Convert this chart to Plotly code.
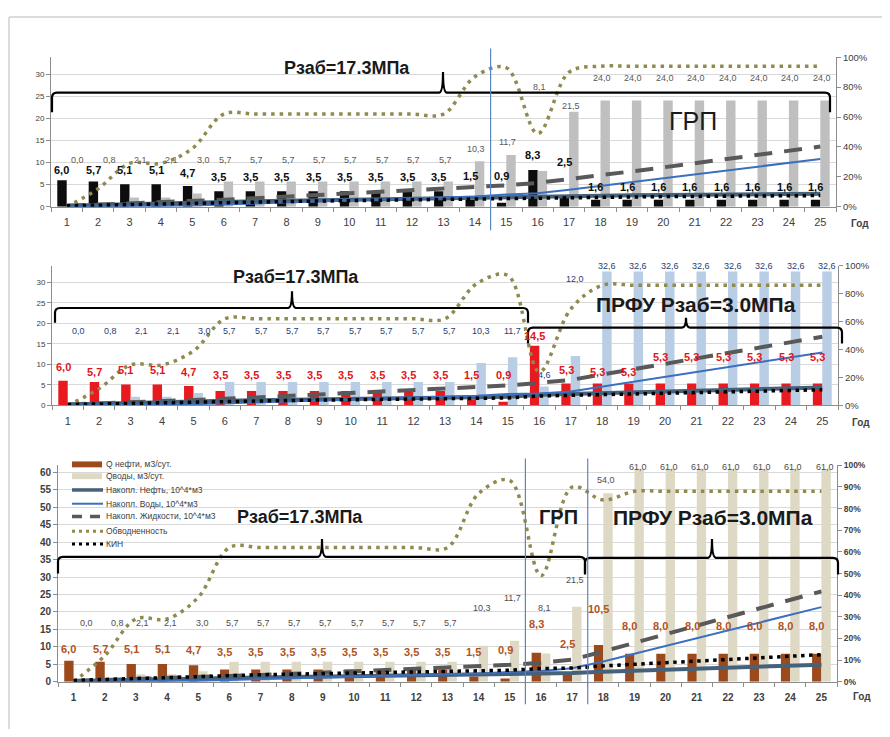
import plotly.graph_objects as go

# ---------------- data ----------------
years = list(range(1, 26))
year_labels = [str(y) for y in years]

# Panel 1: ГРП
p1_oil = [6.0, 5.7, 5.1, 5.1, 4.7, 3.5, 3.5, 3.5, 3.5, 3.5, 3.5, 3.5, 3.5, 1.5, 0.9,
          8.3, 2.5, 1.6, 1.6, 1.6, 1.6, 1.6, 1.6, 1.6, 1.6]
p1_water = [0.0, 0.8, 2.1, 2.1, 3.0, 5.7, 5.7, 5.7, 5.7, 5.7, 5.7, 5.7, 5.7, 10.3, 11.7,
            8.1, 21.5, 24.0, 24.0, 24.0, 24.0, 24.0, 24.0, 24.0, 24.0]
p1_cum_oil = [0.22, 0.43, 0.62, 0.80, 0.97, 1.10, 1.23, 1.36, 1.48, 1.61, 1.74, 1.87, 2.00, 2.05, 2.08,
              2.38, 2.47, 2.53, 2.59, 2.65, 2.70, 2.76, 2.82, 2.88, 2.94]
p1_cum_water = [0.0, 0.03, 0.10, 0.18, 0.29, 0.50, 0.71, 0.92, 1.12, 1.33, 1.54, 1.75, 1.95, 2.33, 2.75,
                3.05, 3.83, 4.70, 5.58, 6.46, 7.33, 8.21, 9.08, 9.96, 10.8]
p1_cum_liq = [0.22, 0.46, 0.72, 0.98, 1.26, 1.60, 1.93, 2.27, 2.60, 2.94, 3.27, 3.61, 3.95, 4.38, 4.84,
              5.4, 6.2, 7.1, 8.0, 8.9, 9.8, 10.8, 11.7, 12.6, 13.6]
p1_watercut = [0, 12, 29, 29, 39, 62, 62, 62, 62, 62, 62, 62, 62, 87, 93,
               49, 90, 94, 94, 94, 94, 94, 94, 94, 94]
p1_kin = [0.6, 1.1, 1.6, 2.1, 2.5, 2.8, 3.2, 3.5, 3.8, 4.1, 4.5, 4.8, 5.1, 5.3, 5.3,
          6.1, 6.3, 6.5, 6.6, 6.8, 6.9, 7.1, 7.2, 7.4, 7.5]

# Panel 2: ПРФУ
p2_oil = [6.0, 5.7, 5.1, 5.1, 4.7, 3.5, 3.5, 3.5, 3.5, 3.5, 3.5, 3.5, 3.5, 1.5, 0.9,
          14.5, 5.3, 5.3, 5.3, 5.3, 5.3, 5.3, 5.3, 5.3, 5.3]
p2_water = [0.0, 0.8, 2.1, 2.1, 3.0, 5.7, 5.7, 5.7, 5.7, 5.7, 5.7, 5.7, 5.7, 10.3, 11.7,
            4.6, 12.0, 32.6, 32.6, 32.6, 32.6, 32.6, 32.6, 32.6, 32.6]
p2_cum_oil = [0.22, 0.43, 0.62, 0.80, 0.97, 1.10, 1.23, 1.36, 1.48, 1.61, 1.74, 1.87, 2.00, 2.05, 2.08,
              2.61, 2.80, 3.00, 3.19, 3.38, 3.58, 3.77, 3.97, 4.16, 4.35]
p2_cum_water = [0.0, 0.03, 0.10, 0.18, 0.29, 0.50, 0.71, 0.92, 1.12, 1.33, 1.54, 1.75, 1.95, 2.33, 2.75,
                2.92, 3.36, 4.55, 5.74, 6.93, 8.12, 9.31, 10.5, 11.69, 12.88]
p2_cum_liq = [0.22, 0.46, 0.72, 0.98, 1.26, 1.60, 1.93, 2.27, 2.60, 2.94, 3.27, 3.61, 3.95, 4.38, 4.84,
              5.5, 6.2, 7.5, 8.8, 10.1, 11.4, 12.7, 14.0, 15.3, 16.7]
p2_watercut = [0, 12, 29, 29, 39, 62, 62, 62, 62, 62, 62, 62, 62, 87, 93,
               24, 69, 86, 86, 86, 86, 86, 86, 86, 86]
p2_kin = [0.6, 1.1, 1.6, 2.1, 2.5, 2.8, 3.2, 3.5, 3.8, 4.1, 4.5, 4.8, 5.1, 5.3, 5.3,
          6.7, 7.2, 7.7, 8.2, 8.7, 9.2, 9.7, 10.2, 10.7, 11.2]

# Panel 3: ГРП + ПРФУ
p3_oil = [6.0, 5.7, 5.1, 5.1, 4.7, 3.5, 3.5, 3.5, 3.5, 3.5, 3.5, 3.5, 3.5, 1.5, 0.9,
          8.3, 2.5, 10.5, 8.0, 8.0, 8.0, 8.0, 8.0, 8.0, 8.0]
p3_water = [0.0, 0.8, 2.1, 2.1, 3.0, 5.7, 5.7, 5.7, 5.7, 5.7, 5.7, 5.7, 5.7, 10.3, 11.7,
            8.1, 21.5, 54.0, 61.0, 61.0, 61.0, 61.0, 61.0, 61.0, 61.0]
p3_cum_oil = [0.22, 0.43, 0.62, 0.80, 0.97, 1.10, 1.23, 1.36, 1.48, 1.61, 1.74, 1.87, 2.00, 2.05, 2.08,
              2.38, 2.47, 2.85, 3.14, 3.43, 3.72, 4.02, 4.31, 4.60, 4.89]
p3_cum_water = [0.0, 0.03, 0.10, 0.18, 0.29, 0.50, 0.71, 0.92, 1.12, 1.33, 1.54, 1.75, 1.95, 2.33, 2.75,
                3.05, 3.83, 5.80, 8.03, 10.25, 12.48, 14.71, 16.93, 19.16, 21.38]
p3_cum_liq = [0.22, 0.46, 0.72, 0.98, 1.26, 1.60, 1.93, 2.27, 2.60, 2.94, 3.27, 3.61, 3.95, 4.38, 4.84,
              5.44, 6.32, 8.67, 11.1, 13.6, 16.0, 18.5, 21.0, 23.4, 25.9]
p3_watercut = [0, 12, 29, 29, 39, 62, 62, 62, 62, 62, 62, 62, 62, 87, 93,
               49, 90, 84, 88, 88, 88, 88, 88, 88, 88]
p3_kin = [0.6, 1.1, 1.6, 2.1, 2.5, 2.8, 3.2, 3.5, 3.8, 4.1, 4.5, 4.8, 5.1, 5.3, 5.3,
          6.1, 6.3, 7.3, 8.1, 8.8, 9.5, 10.3, 11.0, 11.8, 12.5]

series_names = ["Q нефти, м3/сут.", "Qводы, м3/сут.", "Накопл. Нефть, 10^4*м3",
                "Накопл. Воды, 10^4*м3", "Накопл. Жидкости, 10^4*м3", "Обводненность", "КИН"]

# value-label placement (left-axis units, and x shift from the year)
p1_oil_lbl_y = [8.4, 8.3, 8.3, 8.3, 7.7, 6.8, 6.8, 6.8, 6.8, 6.8, 6.8, 6.8, 6.8, 7.0, 7.0,
                11.6, 10.1, 4.4, 4.4, 4.4, 4.4, 4.4, 4.4, 4.4, 4.4]
p1_water_lbl_y = [10.6] * 13 + [13.1, 14.6, 27.0, 22.7] + [29.0] * 8
p1_water_lbl_dx = [0.35] * 5 + [0.05] * 20
p2_oil_lbl_y = [9.4, 8.2, 8.6, 8.6, 8.2] + [7.3] * 10 + [17.0, 8.6, 8.2, 8.2] + [11.8] * 6
p2_water_lbl_y = [18.1] * 15 + [7.3, 30.8] + [33.9] * 8
p2_water_lbl_dx = [0.35] * 5 + [0.15] * 20
p3_oil_lbl_y = [9.5, 9.5, 9.5, 9.5, 9.0] + [8.5] * 9 + [9.0, 16.5, 10.9, 20.8] + [16.1] * 7
p3_water_lbl_y = [16.7] * 13 + [21.0, 24.0, 21.2, 29.2, 57.8] + [61.6] * 7
p3_water_lbl_dx = [0.4, 0.4, 0.2, 0.1, 0.15] + [0.1] * 20
OIL_LBL_DX = -0.15

# ---------------- styling / layout helpers ----------------
W, H, OFF = 874, 721, 8
FONT = "Liberation Sans, Arial, sans-serif"


def fx(X):
    return (X - OFF) / W


def fy(Y):
    return 1 - (Y - OFF) / H


def fmt(v):
    return f"{v:.1f}".replace(".", ",")


C_CUM_OIL = "#46617a"
C_CUM_WAT = "#3b6fbf"
C_CUM_LIQ = "#595959"
C_WCUT = "#8f8a4e"
C_KIN = "#000000"

fig = go.Figure()
annotations = []

panels = [
    dict(xa="x", ya="y", ya2="y2", oil=p1_oil, water=p1_water, coil=p1_cum_oil, cwat=p1_cum_water,
         cliq=p1_cum_liq, wcut=p1_watercut, kin=p1_kin, oil_c="#0d0d0d", wat_c="#bfbfbf",
         oil_lc="#0d0d0d", wat_lc="#595959", oly=p1_oil_lbl_y, wly=p1_water_lbl_y, wdx=p1_water_lbl_dx),
    dict(xa="x2", ya="y3", ya2="y4", oil=p2_oil, water=p2_water, coil=p2_cum_oil, cwat=p2_cum_water,
         cliq=p2_cum_liq, wcut=p2_watercut, kin=p2_kin, oil_c="#e8191f", wat_c="#b9cde5",
         oil_lc="#e0161c", wat_lc="#1f3d7a", oly=p2_oil_lbl_y, wly=p2_water_lbl_y, wdx=p2_water_lbl_dx),
    dict(xa="x3", ya="y5", ya2="y6", oil=p3_oil, water=p3_water, coil=p3_cum_oil, cwat=p3_cum_water,
         cliq=p3_cum_liq, wcut=p3_watercut, kin=p3_kin, oil_c="#9c4a1c", wat_c="#ddd9c4",
         oil_lc="#b0531f", wat_lc="#4d4d4d", oly=p3_oil_lbl_y, wly=p3_water_lbl_y, wdx=p3_water_lbl_dx),
]

for p in panels:
    xa, ya, ya2 = p["xa"], p["ya"], p["ya2"]
    fig.add_trace(go.Bar(x=years, y=p["oil"], offset=-0.3, width=0.3, marker_color=p["oil_c"],
                         marker_line_width=0, name=series_names[0], xaxis=xa, yaxis=ya,
                         showlegend=False))
    fig.add_trace(go.Bar(x=years, y=p["water"], offset=0.0, width=0.3, marker_color=p["wat_c"],
                         marker_line_width=0, name=series_names[1], xaxis=xa, yaxis=ya,
                         showlegend=False))
    fig.add_trace(go.Scatter(x=years, y=p["cliq"], mode="lines", name=series_names[4],
                             line=dict(color=C_CUM_LIQ, width=4, dash="18px,12px"),
                             xaxis=xa, yaxis=ya, showlegend=False))
    fig.add_trace(go.Scatter(x=years, y=p["coil"], mode="lines", name=series_names[2],
                             line=dict(color=C_CUM_OIL, width=4), xaxis=xa, yaxis=ya, showlegend=False))
    fig.add_trace(go.Scatter(x=years, y=p["cwat"], mode="lines", name=series_names[3],
                             line=dict(color=C_CUM_WAT, width=2), xaxis=xa, yaxis=ya, showlegend=False))
    # secondary axis: watercut and КИН (%)
    fig.add_trace(go.Scatter(x=years, y=p["wcut"], mode="lines", name=series_names[5],
                             line=dict(color=C_WCUT, width=3.5, dash="3.5px,5px", shape="spline"),
                             xaxis=xa, yaxis=ya2, showlegend=False))
    fig.add_trace(go.Scatter(x=years, y=p["kin"], mode="lines", name=series_names[6],
                             line=dict(color=C_KIN, width=3.5, dash="3.5px,4.5px"),
                             xaxis=xa, yaxis=ya2, showlegend=False))
    # value labels (drawn on top, like chart data labels)
    for yr, v, ly in zip(years, p["oil"], p["oly"]):
        annotations.append(dict(x=yr + OIL_LBL_DX, y=ly, xref=xa, yref=ya, text=fmt(v), showarrow=False,
                                xanchor="center", yanchor="middle",
                                font=dict(family=FONT, size=11, color=p["oil_lc"], weight="bold")))
    for yr, v, ly, dx in zip(years, p["water"], p["wly"], p["wdx"]):
        annotations.append(dict(x=yr + dx, y=ly, xref=xa, yref=ya, text=fmt(v), showarrow=False,
                                xanchor="center", yanchor="middle",
                                font=dict(family=FONT, size=9, color=p["wat_lc"])))

AX_C = "#8c8c8c"
GRID_C = "#d9d9d9"


def xcfg(x0, x1, anchor, bold, size, standoff):
    return dict(domain=[fx(x0), fx(x1)], anchor=anchor, range=[0.5, 25.5], tickmode="array",
                tickvals=years, ticktext=year_labels, ticks="", showline=True, linecolor=AX_C,
                linewidth=1, showgrid=False, zeroline=False, fixedrange=True, ticklabelstandoff=standoff,
                tickfont=dict(family=FONT, size=size, color="#404040", weight="bold" if bold else "normal"),
                minor=dict(tickvals=[k + 0.5 for k in range(0, 26)], ticks="outside", ticklen=4,
                           tickcolor=AX_C, showgrid=False))


def ylcfg(y0, y1, anchor, top, dtick, bold, size):
    return dict(domain=[fy(y1), fy(y0)], anchor=anchor, range=[0, top], dtick=dtick, tick0=0,
                showgrid=True, gridcolor=GRID_C, gridwidth=1, showline=True, linecolor=AX_C,
                ticks="outside", ticklen=4, tickcolor=AX_C, zeroline=False,
                tickfont=dict(family=FONT, size=size, color="#404040", weight="bold" if bold else "normal"))


def yrcfg(over, anchor, dtick, bold, size):
    return dict(overlaying=over, side="right", anchor=anchor, range=[0, 100], dtick=dtick, tick0=0,
                ticksuffix="%", showgrid=False, showline=True, linecolor=AX_C, ticks="outside",
                ticklen=4, tickcolor=AX_C, zeroline=False,
                tickfont=dict(family=FONT, size=size, color="#404040", weight="bold" if bold else "normal"))


layout = dict(
    width=W, height=H, autosize=False, margin=dict(l=0, r=0, t=0, b=0),
    paper_bgcolor="white", plot_bgcolor="rgba(0,0,0,0)", barmode="overlay", showlegend=False,
    xaxis=xcfg(51, 836, "y", False, 11, 5),
    yaxis=ylcfg(52, 204, "x", 33.8, 5, False, 8),
    yaxis2=yrcfg("y", "x", 20, False, 9.5),
    xaxis2=xcfg(52, 838, "y3", False, 11, 5),
    yaxis3=ylcfg(264, 406, "x2", 34.0, 5, False, 8),
    yaxis4=yrcfg("y3", "x2", 20, False, 9.5),
    xaxis3=xcfg(58, 837, "y5", True, 10, 6),
    yaxis5=ylcfg(467, 687, "x3", 62, 5, True, 10),
    yaxis6=yrcfg("y5", "x3", 10, True, 8.5),
)
fig.update_layout(**layout)

shapes = []


def brace(x0, x1, xm, yh, yend, ytip, r=5, rt=4):
    path = f"M {fx(x0)},{fy(yend)} L {fx(x0)},{fy(yh + r)} "
    path += f"Q {fx(x0)},{fy(yh)} {fx(x0 + r)},{fy(yh)} "
    path += f"L {fx(xm - rt)},{fy(yh)} "
    path += f"Q {fx(xm)},{fy(yh)} {fx(xm)},{fy(ytip)} "
    path += f"Q {fx(xm)},{fy(yh)} {fx(xm + rt)},{fy(yh)} "
    path += f"L {fx(x1 - r)},{fy(yh)} "
    path += f"Q {fx(x1)},{fy(yh)} {fx(x1)},{fy(yh + r)} L {fx(x1)},{fy(yend)}"
    return dict(type="path", xref="paper", yref="paper", path=path,
                line=dict(color="#000000", width=2.2))


# frame
shapes.append(dict(type="line", xref="paper", yref="paper", x0=fx(9), x1=fx(890), y0=fy(11), y1=fy(11),
                   line=dict(color="#d0d0d0", width=1.5)))
shapes.append(dict(type="line", xref="paper", yref="paper", x0=fx(9), x1=fx(9), y0=fy(11), y1=fy(737),
                   line=dict(color="#d0d0d0", width=1.5)))

# braces
shapes.append(brace(52, 830, 443, 88, 108, 67))
shapes.append(brace(55, 528, 292, 307, 322, 290))
shapes.append(brace(528, 842, 686, 327, 343, 317))
shapes.append(brace(58, 585, 322, 560, 577, 542))
shapes.append(brace(585, 838, 712, 561, 578, 542))

# blue separators
for xv, xr, ya0, ya1 in [(14.5, "x", 228, 43), (15.5, "x3", 710, 460), (17.5, "x3", 710, 460)]:
    shapes.append(dict(type="line", xref=xr, yref="paper", x0=xv, x1=xv, y0=fy(ya0), y1=fy(ya1),
                       line=dict(color="#5b86c5", width=1.2)))


def ann(text, X, Y, size, bold=True, color="#1a1a1a", xanchor="center"):
    annotations.append(dict(text=text, x=fx(X), y=fy(Y), xref="paper", yref="paper", showarrow=False,
                            xanchor=xanchor, yanchor="middle",
                            font=dict(family=FONT, size=size, color=color,
                                      weight="bold" if bold else "normal")))


ann("Рзаб=17.3МПа", 347, 63, 18)
ann("ГРП", 693, 117, 25, bold=False)
ann("Рзаб=17.3МПа", 296, 275, 18)
ann("ПРФУ Рзаб=3.0МПа", 696, 303, 21)
ann("Рзаб=17.3МПа", 300, 520, 18)
ann("ГРП", 558, 520, 20)
ann("ПРФУ Рзаб=3.0МПа", 713, 520, 21)
for gx, gy in [(860, 221), (861, 423), (862, 702)]:
    ann("Год", gx, gy, 10, color="#404040")

# legend (panel 3)
leg_y = [466, 478, 492, 506, 519, 534, 547]
shapes.append(dict(type="rect", xref="paper", yref="paper", x0=fx(72), x1=fx(102), y0=fy(469), y1=fy(463),
                   fillcolor=panels[2]["oil_c"], line=dict(width=0)))
shapes.append(dict(type="rect", xref="paper", yref="paper", x0=fx(72), x1=fx(102), y0=fy(481), y1=fy(475),
                   fillcolor=panels[2]["wat_c"], line=dict(width=0)))
for yy, col, wd, ds in [(leg_y[2], C_CUM_OIL, 3.5, "solid"), (leg_y[3], C_CUM_WAT, 2, "solid"),
                        (leg_y[4], C_CUM_LIQ, 3.5, "10px,8px"), (leg_y[5], C_WCUT, 3, "3px,4px"),
                        (leg_y[6], C_KIN, 3, "3px,4px")]:
    shapes.append(dict(type="line", xref="paper", yref="paper", x0=fx(72), x1=fx(103), y0=fy(yy), y1=fy(yy),
                       line=dict(color=col, width=wd, dash=ds)))
for name, yy in zip(series_names, leg_y):
    ann(name, 104, yy, 8.5, bold=False, color="#404040", xanchor="left")

fig.update_layout(shapes=shapes, annotations=annotations)
fig.write_html("out.html")
